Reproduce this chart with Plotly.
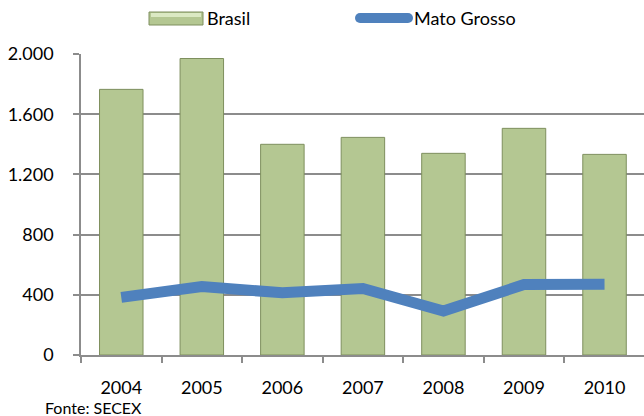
import plotly.graph_objects as go

# ---- data ----
years = ["2004", "2005", "2006", "2007", "2008", "2009", "2010"]
brasil = [1765, 1970, 1400, 1446, 1340, 1506, 1333]
mato_grosso = [383, 455, 413, 442, 292, 468, 470]
y_ticks = [0, 400, 800, 1200, 1600, 2000]
series_names = ["Brasil", "Mato Grosso"]
source_note = "Fonte: SECEX"

# ---- layout geometry (pixels) ----
W, H = 644, 416
L, R, T, B = 81, 644, 54, 355
PW, PH = R - L, B - T


def px(x):
    return (x - L) / PW


def py(y):
    return (B - y) / PH


FONT = "Lato, 'Open Sans', sans-serif"
BAR_FILL = "#b4c792"
BAR_EDGE = "#7e8f5e"
LINE_COL = "#4f81bd"
GRID = "#8c8c8c"

fig = go.Figure()
fig.add_trace(go.Bar(
    x=years, y=brasil, name=series_names[0], width=0.54,
    marker=dict(color=BAR_FILL, line=dict(color=BAR_EDGE, width=1)),
    showlegend=False,
))
fig.add_trace(go.Scatter(
    x=years, y=mato_grosso, name=series_names[1], mode="lines",
    line=dict(color=LINE_COL, width=11),
    showlegend=False,
))

shapes = [
    # Brasil swatch
    dict(type="rect", xref="paper", yref="paper",
         x0=px(149), x1=px(203), y0=py(25), y1=py(12),
         fillcolor=BAR_FILL, line=dict(color=BAR_EDGE, width=1)),
    dict(type="rect", xref="paper", yref="paper",
         x0=px(151), x1=px(201), y0=py(17), y1=py(13),
         fillcolor="#dbe9c3", line=dict(width=0)),
    # Mato Grosso swatch
    dict(type="line", xref="paper", yref="paper",
         x0=px(360), x1=px(408), y0=py(18), y1=py(18),
         line=dict(color=LINE_COL, width=10)),
    dict(type="circle", xref="paper", yref="paper",
         x0=px(355), x1=px(365), y0=py(23), y1=py(13),
         fillcolor=LINE_COL, line=dict(width=0)),
    dict(type="circle", xref="paper", yref="paper",
         x0=px(403), x1=px(413), y0=py(23), y1=py(13),
         fillcolor=LINE_COL, line=dict(width=0)),
]

annotations = [
    dict(text=series_names[0], xref="paper", yref="paper",
         x=px(205), y=py(17.5), xanchor="left", yanchor="middle",
         showarrow=False, font=dict(family=FONT, size=18, color="#000")),
    dict(text=series_names[1], xref="paper", yref="paper",
         x=px(412), y=py(17.5), xanchor="left", yanchor="middle",
         showarrow=False, font=dict(family=FONT, size=18, color="#000")),
    dict(text=source_note, xref="paper", yref="paper",
         x=px(43), y=py(407.5), xanchor="left", yanchor="middle",
         showarrow=False, font=dict(family=FONT, size=16, color="#000")),
]

fig.update_layout(
    width=W, height=H,
    margin=dict(l=L, r=W - R, t=T, b=H - B, pad=0),
    paper_bgcolor="white", plot_bgcolor="white",
    separators=",.",
    font=dict(family=FONT, size=18, color="#000"),
    shapes=shapes, annotations=annotations,
    showlegend=False,
)
fig.update_xaxes(
    type="category", range=[-0.5, 6.49],
    showline=True, linecolor=GRID, linewidth=1.5,
    ticks="outside", tickson="boundaries", ticklen=6, tickcolor=GRID, tickwidth=1.5,
    ticklabelstandoff=16,
    showgrid=False,
    tickfont=dict(family=FONT, size=18, color="#000"),
)
fig.update_yaxes(
    range=[0, 2000], tickvals=y_ticks, tickformat=",d",
    showline=True, linecolor=GRID, linewidth=1.5,
    ticks="outside", ticklen=6, tickcolor=GRID, tickwidth=1.5,
    ticklabelstandoff=16,
    showgrid=True, gridcolor=GRID, gridwidth=1.5,
    zeroline=False,
    tickfont=dict(family=FONT, size=18, color="#000"),
)

fig.write_html("out.html", config={"displayModeBar": False},
               post_script="document.body.style.margin='0';")
